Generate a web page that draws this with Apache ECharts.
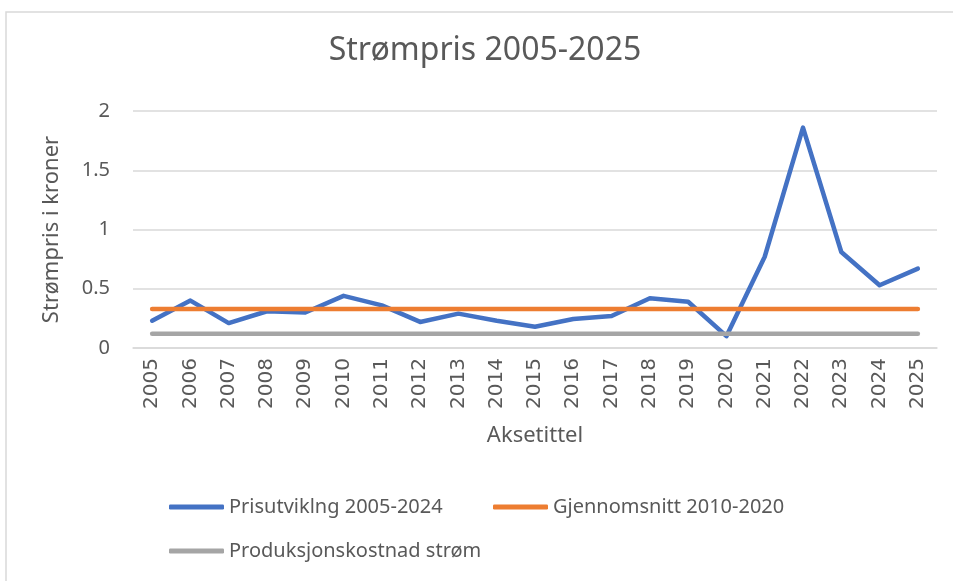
<!DOCTYPE html>
<html>
<head>
<meta charset="utf-8">
<script src="https://cdn.jsdelivr.net/npm/echarts@6/dist/echarts.min.js"></script>
<style>
  html, body { margin: 0; padding: 0; background: #fff; }
  #chart { width: 953px; height: 581px; }
</style>
</head>
<body>
<div id="chart"></div>
<script>
// årstall på x-aksen
var years = ['2005', '2006', '2007', '2008', '2009', '2010', '2011', '2012', '2013', '2014', '2015',
             '2016', '2017', '2018', '2019', '2020', '2021', '2022', '2023', '2024', '2025'];

// strømpris i kroner
var prisutvikling = [0.23, 0.40, 0.21, 0.31, 0.30, 0.44, 0.36, 0.22, 0.29, 0.23, 0.18,
                     0.245, 0.27, 0.42, 0.39, 0.10, 0.77, 1.86, 0.81, 0.53, 0.67];

// gjennomsnitt 2010-2020
var gjennomsnitt = [0.33, 0.33, 0.33, 0.33, 0.33, 0.33, 0.33, 0.33, 0.33, 0.33, 0.33,
                    0.33, 0.33, 0.33, 0.33, 0.33, 0.33, 0.33, 0.33, 0.33, 0.33];

// produksjonskostnad
var produksjon = [0.12, 0.12, 0.12, 0.12, 0.12, 0.12, 0.12, 0.12, 0.12, 0.12, 0.12,
                  0.12, 0.12, 0.12, 0.12, 0.12, 0.12, 0.12, 0.12, 0.12, 0.12];

var yTicks = [0, 0.5, 1, 1.5, 2];

var font = 'Noto Sans';
var grey = '#595959';

var chart = echarts.init(document.getElementById('chart'));

function lineSeries(name, data, color) {
  return {
    name: name,
    type: 'line',
    data: data,
    symbol: 'none',
    lineStyle: { color: color, width: 4.5, cap: 'round', join: 'round' },
    itemStyle: { color: color }
  };
}

var legendBase = {
  icon: 'roundRect',
  itemWidth: 55,
  itemHeight: 5,
  padding: 0,
  textStyle: { fontFamily: font, fontSize: 20, color: grey }
};

var option = {
  animation: false,
  graphic: [{
    type: 'rect',
    shape: { x: 6, y: 12, width: 1000, height: 1000 },
    style: { fill: 'none', stroke: '#D9D9D9', lineWidth: 1.5 },
    silent: true
  }],
  title: {
    text: 'Strømpris 2005-2025',
    left: 485,
    top: 35,
    textAlign: 'center',
    padding: 0,
    textStyle: { fontFamily: font, fontSize: 32, fontWeight: 'normal', color: grey }
  },
  legend: [
    Object.assign({ data: ['Prisutviklng 2005-2024'], left: 169, top: 497 }, legendBase),
    Object.assign({ data: ['Gjennomsnitt 2010-2020'], left: 493, top: 497 }, legendBase),
    Object.assign({ data: ['Produksjonskostnad strøm'], left: 169, top: 541 }, legendBase)
  ],
  grid: { left: 133, right: 16, top: 111, bottom: 233, containLabel: false },
  xAxis: {
    type: 'category',
    data: years,
    boundaryGap: true,
    name: 'Aksetittel',
    nameLocation: 'middle',
    nameGap: 77,
    nameTextStyle: { fontFamily: font, fontSize: 22, color: grey },
    axisLine: { lineStyle: { color: '#D9D9D9', width: 1.5 } },
    axisTick: { show: false },
    axisLabel: { rotate: 90, margin: 10, interval: 0, fontFamily: 'DejaVu Sans', fontSize: 20, color: grey }
  },
  yAxis: {
    type: 'value',
    min: yTicks[0],
    max: yTicks[yTicks.length - 1],
    interval: 0.5,
    name: 'Strømpris i kroner',
    nameLocation: 'middle',
    nameGap: 70,
    nameTextStyle: { fontFamily: font, fontSize: 22, color: grey },
    axisLine: { show: false },
    axisTick: { show: false },
    axisLabel: { margin: 23, fontFamily: font, fontSize: 20, color: grey },
    splitLine: { lineStyle: { color: '#D9D9D9', width: 1.5 } }
  },
  series: [
    lineSeries('Prisutviklng 2005-2024', prisutvikling, '#4472C4'),
    lineSeries('Gjennomsnitt 2010-2020', gjennomsnitt, '#ED7D31'),
    lineSeries('Produksjonskostnad strøm', produksjon, '#A5A5A5')
  ]
};

chart.setOption(option);
</script>
</body>
</html>
